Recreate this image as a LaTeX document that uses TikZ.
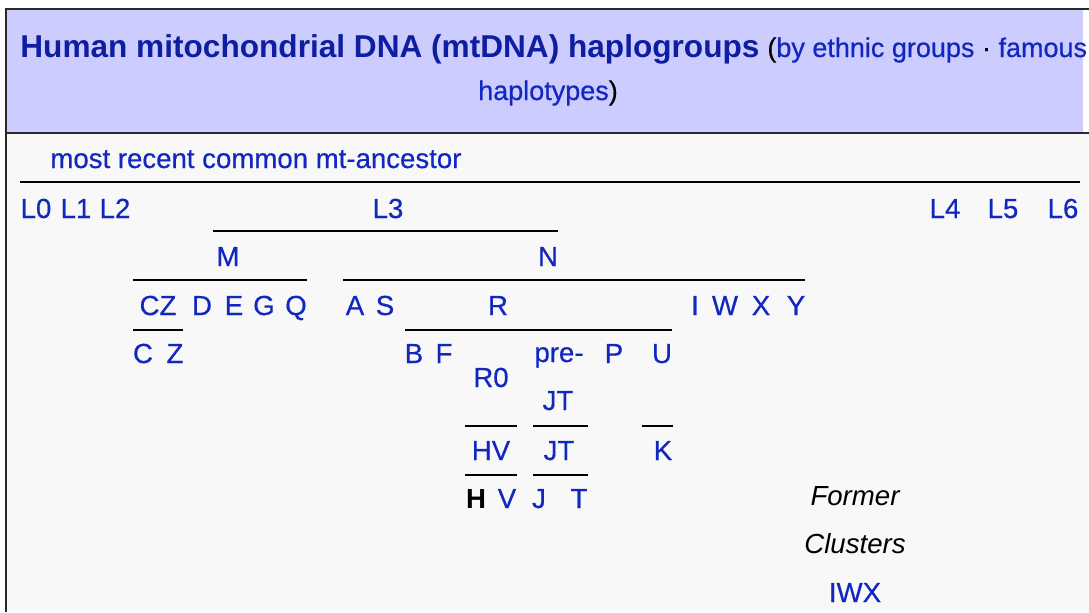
\documentclass[tikz,border=0pt]{standalone}
\usepackage{fontspec}
\setmainfont{Liberation Sans}
\newfontface\hgface{Liberation Sans}[FakeBold=0.5]
\usepackage{xcolor}
\usepackage{tikz}
\usetikzlibrary{positioning}
\definecolor{hgblue}{RGB}{18, 38, 192}
\definecolor{titleblue}{RGB}{14, 30, 160}
\definecolor{headbg}{RGB}{204, 204, 255}
\definecolor{bodybg}{RGB}{248, 248, 248}
\definecolor{frame}{RGB}{40, 40, 40}

\begin{document}
\begin{tikzpicture}[x=0.5pt,y=-0.5pt,
	hg/.style={text=hgblue,font=\fontsize{13.8}{16}\hgface,inner sep=0pt,anchor=base},
	note/.style={text=black,font=\fontsize{13.8}{16}\selectfont\itshape,inner sep=0pt,anchor=base},
	branch/.style={line width=1.2pt,black}]
	\useasboundingbox (0,0) rectangle (1089,612);
	\fill[white] (0,0) rectangle (1089,612);
	\fill[headbg] (6,9) rectangle (1083,133);
	\fill[bodybg] (6,133) rectangle (1089,612);
	\draw[frame,line width=1.2pt] (1089,9) -- (6,9) -- (6,612);
	\draw[frame,line width=1pt] (6,133) -- (1089,133);
	
	% header
	\node[inner sep=0pt,anchor=base west,text=titleblue,font=\fontsize{15.8}{19}\selectfont\bfseries] (title) at (20,57) {Human mitochondrial DNA (mtDNA) haplogroups};
	\node[inner sep=0pt,anchor=base west,font=\fontsize{13.5}{16}\hgface] (subtitle) at (767,57) {(\textcolor{hgblue}{by ethnic groups} · \textcolor{hgblue}{famous}};
	\node[inner sep=0pt,anchor=base,font=\fontsize{13.5}{16}\hgface] (subtitle2) at (548,100) {\textcolor{hgblue}{haplotypes})};
	
	\node[hg,anchor=base west] (mrca) at (50,168) {most recent common mt-ancestor};
	
	% haplogroups
	\node[hg] (L0) at (36,218) {L0};
	\node[hg] (L1) at (76,218) {L1};
	\node[hg] (L2) at (115,218) {L2};
	\node[hg] (L3) at (388,218) {L3};
	\node[hg] (L4) at (945,218) {L4};
	\node[hg] (L5) at (1003,218) {L5};
	\node[hg] (L6) at (1063,218) {L6};
	
	\node[hg] (M) at (228,266) {M};
	\node[hg] (N) at (548,266) {N};
	
	\node[hg] (CZ) at (158,315) {CZ};
	\node[hg] (D) at (202,315) {D};
	\node[hg] (E) at (234,315) {E};
	\node[hg] (G) at (264,315) {G};
	\node[hg] (Q) at (296,315) {Q};
	\node[hg] (A) at (355,315) {A};
	\node[hg] (S) at (385,315) {S};
	\node[hg] (R) at (498,315) {R};
	\node[hg] (I) at (695,315) {I};
	\node[hg] (W) at (725,315) {W};
	\node[hg] (X) at (761,315) {X};
	\node[hg] (Y) at (796,315) {Y};
	
	\node[hg] (C) at (143,363) {C};
	\node[hg] (Z) at (175,363) {Z};
	\node[hg] (B) at (414,363) {B};
	\node[hg] (F) at (444,363) {F};
	\node[hg] (R0) at (491,387) {R0};
	\node[hg] (preJT) at (559,362) {pre-};
	\node[hg] (preJTb) at (558,410) {JT};
	\node[hg] (P) at (614,363) {P};
	\node[hg] (U) at (662,363) {U};
	
	\node[hg] (HV) at (491,460) {HV};
	\node[hg] (JT) at (559,460) {JT};
	\node[hg] (K) at (663,460) {K};
	
	\node[hg,text=black,font=\fontsize{13.8}{16}\selectfont\bfseries] (H) at (476,508) {H};
	\node[hg] (V) at (507,508) {V};
	\node[hg] (J) at (539,508) {J};
	\node[hg] (T) at (579,508) {T};
	
	\node[note] (former) at (855,505) {Former};
	\node[note] (clusters) at (855,553) {Clusters};
	\node[hg] (IWX) at (855,602) {IWX};
	
	% branches
	\draw[branch] (20,182) -- (1080,182);
	\draw[branch] (213,231) -- (558,231);
	\draw[branch] (133,280) -- (307,280);
	\draw[branch] (343,280) -- (805,280);
	\draw[branch] (133,330) -- (183,330);
	\draw[branch] (405,330) -- (672,330);
	\draw[branch] (465,426) -- (517,426);
	\draw[branch] (533,426) -- (588,426);
	\draw[branch] (642,426) -- (673,426);
	\draw[branch] (465,475) -- (517,475);
	\draw[branch] (533,475) -- (588,475);
	
\end{tikzpicture}
\end{document}
